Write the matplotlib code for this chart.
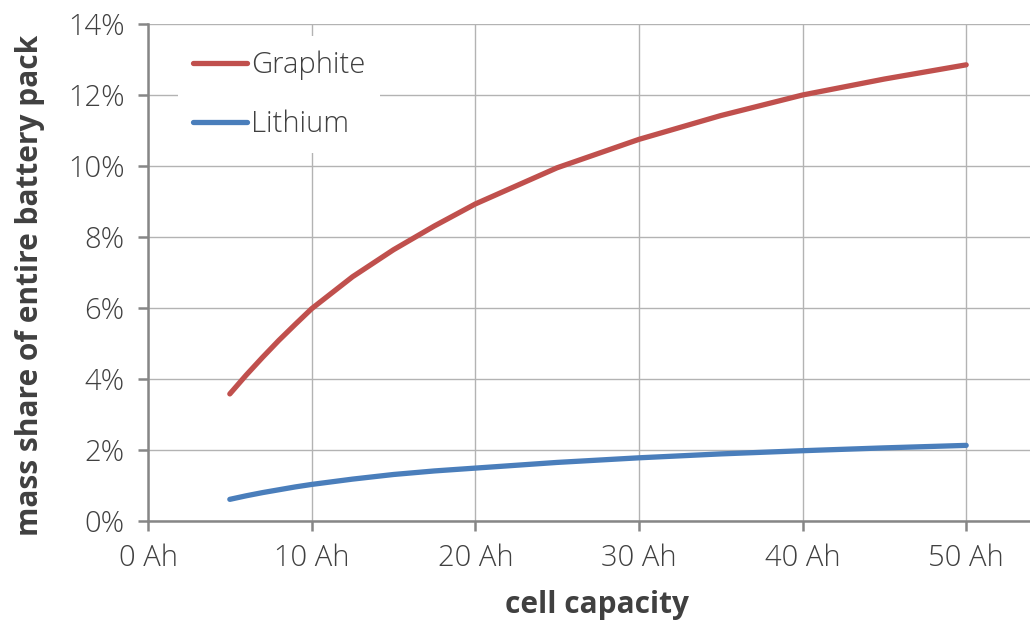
import matplotlib
matplotlib.use("Agg")
import matplotlib.pyplot as plt
from matplotlib.ticker import FuncFormatter

# values
capacity_ah = [5, 6, 7, 8, 9, 10, 12.5, 15, 17.5, 20, 25, 30, 35, 40, 45, 50]
graphite_pct = [3.58, 4.11, 4.61, 5.09, 5.54, 5.98, 6.88, 7.64, 8.31, 8.93,
                9.95, 10.75, 11.42, 12.00, 12.45, 12.85]
lithium_pct = [0.61, 0.71, 0.80, 0.88, 0.96, 1.03, 1.18, 1.31, 1.41, 1.49,
               1.65, 1.78, 1.89, 1.98, 2.06, 2.13]

x_ticks = [0, 10, 20, 30, 40, 50]
y_ticks = [0, 2, 4, 6, 8, 10, 12, 14]

RED = "#C0504D"
BLUE = "#4A7EBB"
TEXT = "#404040"
AXIS = "#868686"
GRID = "#B3B3B3"

plt.rcParams["font.family"] = ["Open Sans", "DejaVu Sans"]

W, H = 1030, 623
fig = plt.figure(figsize=(W / 100, H / 100), dpi=100)
ax = fig.add_axes([148 / W, 1 - 521 / H, 882 / W, 497 / H])

ax.plot(capacity_ah, graphite_pct, color=RED, lw=3.8, solid_capstyle="round",
        solid_joinstyle="round", label="Graphite", zorder=3)
ax.plot(capacity_ah, lithium_pct, color=BLUE, lw=3.8, solid_capstyle="round",
        solid_joinstyle="round", label="Lithium", zorder=3)

ax.set_xlim(0, 53.9)
ax.set_ylim(0, 14)
ax.set_xticks(x_ticks)
ax.set_yticks(y_ticks)
ax.xaxis.set_major_formatter(FuncFormatter(lambda v, _: f"{v:.0f} Ah"))
ax.yaxis.set_major_formatter(FuncFormatter(lambda v, _: f"{v:.0f}%"))

ax.grid(True, color=GRID, lw=1.0, zorder=0)
ax.set_axisbelow(True)
for side in ("top", "right"):
    ax.spines[side].set_visible(False)
for side in ("left", "bottom"):
    ax.spines[side].set_color(AXIS)
    ax.spines[side].set_linewidth(1.8)
ax.tick_params(axis="both", direction="out", length=7, width=1.8, color=AXIS,
               labelsize=21, labelcolor=TEXT)
ax.tick_params(axis="x", pad=9)
ax.tick_params(axis="y", pad=10)
for lbl in ax.get_xticklabels() + ax.get_yticklabels():
    lbl.set_fontweight("light")

ax.set_xlabel("cell capacity", fontsize=21.5, fontweight="bold", color=TEXT)
ax.xaxis.set_label_coords(0.509, -0.169)
ax.xaxis.label.set_va("center")
ax.set_ylabel("mass share of entire battery pack", fontsize=21.5,
              fontweight="bold", color=TEXT)
ax.yaxis.set_label_coords(-0.134, 0.475)
ax.yaxis.label.set_va("center")

leg = ax.legend(loc="upper left", bbox_to_anchor=(30 / 882, 1 - 12 / 497),
                frameon=True, framealpha=1, facecolor="white",
                edgecolor="none", fontsize=21, handlelength=1.86,
                handletextpad=0.14, labelspacing=1.0, borderpad=0.5,
                borderaxespad=0, fancybox=False)
for t in leg.get_texts():
    t.set_color(TEXT)
    t.set_fontweight("light")

fig.savefig("out.png", dpi=100)
